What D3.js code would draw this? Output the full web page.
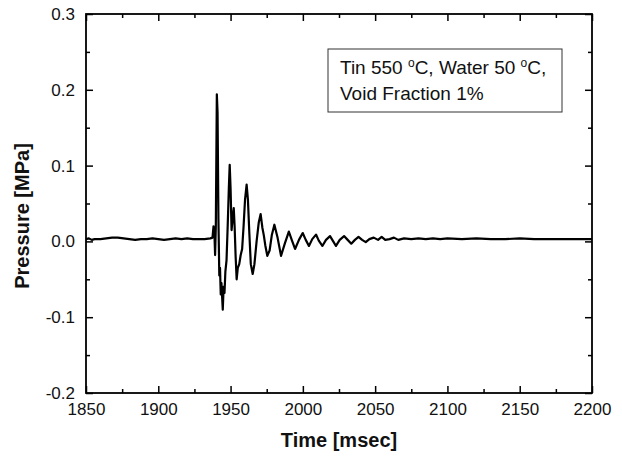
<!DOCTYPE html>
<html>
<head>
	<title>Pressure trace</title>
	<meta charset="utf-8">
	<script type="text/javascript" src="https://cdn.jsdelivr.net/npm/d3@7"></script>
	<style type="text/css">
	     body{
	     	margin:0;
	     	background:#fff;
	     }
	     .tickText{
	     	font-family:"Liberation Sans", Arial, sans-serif;
	     	font-size:17px;
	     	fill:#111;
	     }
	     .axisTitle{
	     	font-family:"Liberation Sans", Arial, sans-serif;
	     	font-size:20px;
	     	font-weight:bold;
	     	fill:#111;
	     }
	     .note{
	     	font-family:"Liberation Sans", Arial, sans-serif;
	     	font-size:19px;
	     	fill:#111;
	     }
	</style>
</head>
<body>
<div id="chart"></div>
<script type="text/javascript">
// time axis values (msec)
var timeMs = [1850,1852,1854,1856,1860,1864,1868,1872,1876,1880,1884,1888,1892,1896,1900,1904,1908,1912,1916,1920,1924,1928,1932,1936,1937.5,
  1938.2,1938.8,1939.3,1939.8,1940.5,1941.0,1941.6,1942.2,1942.7,1943.2,1943.7,1944.2,1944.6,1945.2,1945.8,1946.4,1947.2,1948,1948.8,1949.4,
  1950,1950.7,1951.4,1952.2,1952.8,1953.5,1954.2,1955,1956,1957,1958,1959,1960,1961.1,1962,1963,1964,1965.3,1966.5,1968,1969.5,1970.8,
  1972,1973,1974,1975.4,1977,1978.5,1980.3,1982.5,1984.9,1987.5,1990.3,1992.5,1994.6,1997.3,1999.9,2002,2004.2,2006.5,2009.1,2011,2013.5,
  2016,2018.8,2021,2022.9,2025.5,2028.5,2030.5,2033.5,2036,2038.5,2041,2043.5,2046,2049,2052,2054.5,2057,2060,2063,2066,2070,2075,2080,
  2085,2090,2095,2100,2110,2120,2130,2140,2150,2160,2170,2180,2190,2200];
// pressure values (MPa)
var pressureMPa = [0.003,0.004,0.002,0.003,0.003,0.004,0.005,0.005,0.004,0.003,0.002,0.003,0.003,0.004,0.003,0.002,0.003,0.004,0.003,0.004,0.003,0.003,0.003,0.004,0.005,
  0.020,0.012,-0.018,0.020,0.194,0.170,0.030,-0.045,-0.035,-0.070,-0.055,-0.075,-0.090,-0.060,-0.068,-0.040,-0.025,0.020,0.070,0.101,
  0.070,0.015,0.030,0.044,0.020,-0.020,-0.050,-0.035,-0.030,-0.018,-0.010,0.020,0.055,0.075,0.055,0.010,-0.030,-0.043,-0.030,0.000,0.025,0.036,
  0.018,0.008,-0.005,-0.019,-0.012,0.008,0.022,0.005,-0.019,-0.003,0.013,0.001,-0.010,0.002,0.011,0.002,-0.006,0.003,0.009,0.001,-0.006,
  0.002,0.007,0.000,-0.006,0.002,0.007,0.003,-0.003,0.002,0.006,0.002,-0.001,0.003,0.005,0.002,0.006,0.002,0.003,0.005,0.002,0.004,0.003,0.004,
  0.003,0.004,0.003,0.004,0.003,0.004,0.003,0.003,0.004,0.003,0.003,0.003,0.003,0.003];

var xTicks = [1850,1900,1950,2000,2050,2100,2150,2200];
var xMinor = [1875,1925,1975,2025,2075,2125,2175];
var yTicks = [-0.2,-0.1,0.0,0.1,0.2,0.3];
var yMinor = [-0.15,-0.05,0.05,0.15,0.25];
var noteLines = ["Tin 550 |C, Water 50 |C,", "Void Fraction 1%"];

var W = 622, H = 456;
var pLeft = 86, pRight = 592, pTop = 14, pBottom = 393;

var svg = d3.select("#chart").append("svg")
    .attr("width", W).attr("height", H);

var x = d3.scaleLinear().domain([1850, 2200]).range([pLeft, pRight]);
var y = d3.scaleLinear().domain([-0.2, 0.3]).range([pBottom, pTop]);

// draws major + minor inward ticks for one side
function drawAxis(axisFn, scale, major, minor, transform, fmt, pad){
    var g = svg.append("g").attr("transform", transform)
        .call(axisFn(scale).tickValues(major).tickSizeInner(-7).tickSizeOuter(0).tickPadding(pad)
            .tickFormat(fmt || function(){ return ""; }));
    g.select(".domain").remove();
    g.selectAll("line").attr("stroke", "#000").attr("stroke-width", 1.5);
    g.selectAll("text").attr("class", "tickText").attr("font-family", null).attr("font-size", null).attr("fill", null);
    var m = svg.append("g").attr("transform", transform)
        .call(axisFn(scale).tickValues(minor).tickSizeInner(-4).tickSizeOuter(0).tickFormat(""));
    m.select(".domain").remove();
    m.selectAll("line").attr("stroke", "#000").attr("stroke-width", 1.5);
    return g;
}

drawAxis(d3.axisBottom, x, xTicks, xMinor, "translate(0," + pBottom + ")", function(d){ return d; }, 10);
drawAxis(d3.axisTop, x, xTicks, xMinor, "translate(0," + pTop + ")", null, 4);
drawAxis(d3.axisLeft, y, yTicks, yMinor, "translate(" + pLeft + ",0)", function(d){ return d3.format(".1f")(d).replace("−","-"); }, 11);
drawAxis(d3.axisRight, y, yTicks, yMinor, "translate(" + pRight + ",0)", null, 4);

// frame
svg.append("rect")
    .attr("x", pLeft).attr("y", pTop)
    .attr("width", pRight - pLeft).attr("height", pBottom - pTop)
    .attr("fill", "none").attr("stroke", "#000").attr("stroke-width", 1.8);

// trace
var pts = timeMs.map(function(t, i){ return [t, pressureMPa[i]]; });
var line = d3.line().x(function(d){ return x(d[0]); }).y(function(d){ return y(d[1]); });
svg.append("path")
    .datum(pts)
    .attr("d", line)
    .attr("fill", "none")
    .attr("stroke", "#000")
    .attr("stroke-width", 2.2)
    .attr("stroke-linejoin", "round");

// axis titles
svg.append("text").attr("class", "axisTitle")
    .attr("x", (pLeft + pRight) / 2).attr("y", 447)
    .attr("text-anchor", "middle").text("Time [msec]");
svg.append("text").attr("class", "axisTitle")
    .attr("transform", "translate(29,216) rotate(-90)")
    .attr("text-anchor", "middle").text("Pressure [MPa]");

// note box
svg.append("rect")
    .attr("x", 328).attr("y", 49).attr("width", 234).attr("height", 63)
    .attr("fill", "#fff").attr("stroke", "#333").attr("stroke-width", 1);
noteLines.forEach(function(s, i){
    var t = svg.append("text").attr("class", "note")
        .attr("x", 340).attr("y", 74 + i * 26);
    s.split("|").forEach(function(part, j){
        if(j > 0){
            t.append("tspan").attr("dy", -7).attr("font-size", 12).text("o");
            t.append("tspan").attr("dy", 7).text(part);
        }else{
            t.append("tspan").text(part);
        }
    });
});
</script>
</body>
</html>
